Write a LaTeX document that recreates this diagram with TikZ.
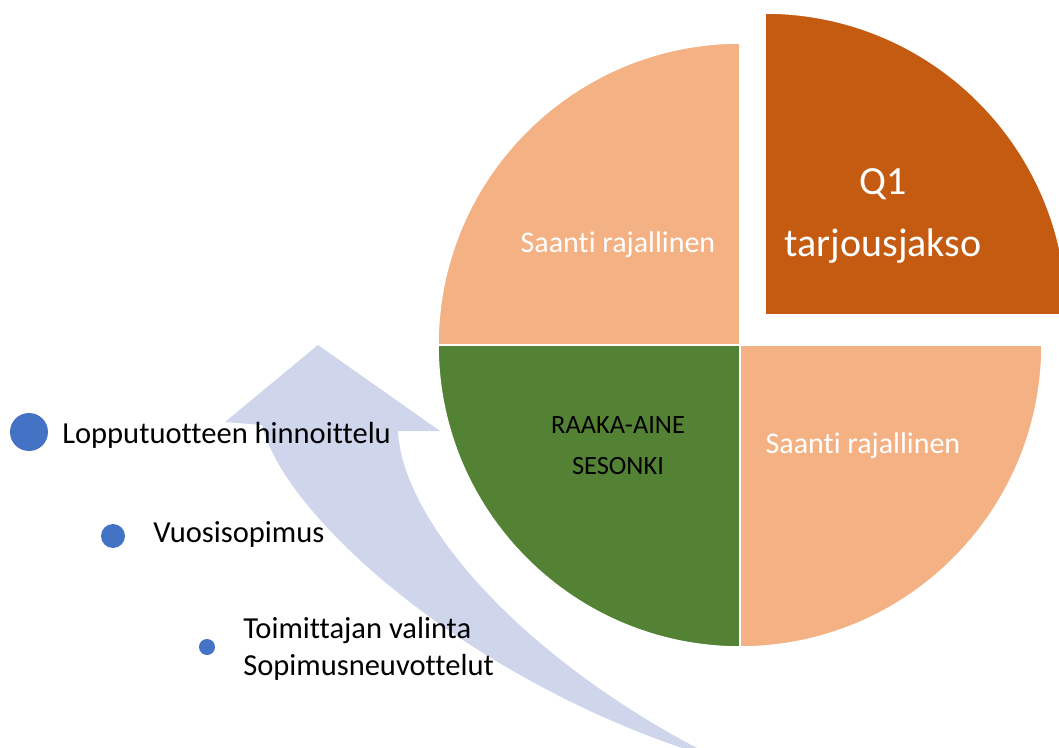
\documentclass[tikz,border=0pt]{standalone}
\usepackage{fontspec}
\setmainfont{Carlito}[Ligatures={NoCommon}]
\usepackage{tikz}
\definecolor{saantiorange}{RGB}{244,177,131}
\definecolor{tarjousorange}{RGB}{197,90,17}
\definecolor{sesonkigreen}{RGB}{84,130,53}
\definecolor{arrowblue}{RGB}{207,213,234}
\definecolor{dotblue}{RGB}{68,114,196}

\begin{document}
\begin{tikzpicture}[x=0.75pt, y=-0.75pt, line join=round,
    slice/.style={draw=white, line width=1.2pt},
    dot/.style={circle, fill=dotblue, inner sep=0pt},
    lbl/.style={inner sep=0pt, font=\fontsize{22.5}{27.75}\selectfont},
    bullettext/.style={inner sep=0pt, anchor=base west, font=\fontsize{22.9}{27.75}\selectfont}]
    \useasboundingbox (0,0) rectangle (1059,748);

    % Kaareva nuoli ympyrän vasemmalla puolella
    \fill[arrowblue] (318,345) -- (440,431) -- (398,431)
        .. controls (402,520) and (520,660) .. (720,760)
        .. controls (480,690) and (285,520) .. (262,425)
        -- (225,422) -- cycle;

    % Ympyrän neljännekset, keskipiste (740,345), säde 302
    \coordinate (c) at (740,345);
    \fill[saantiorange, slice] (c) -- +(180:302) arc[start angle=180, end angle=270, radius=302] -- cycle;
    \fill[sesonkigreen, slice] (c) -- +(90:302) arc[start angle=90, end angle=180, radius=302] -- cycle;
    \fill[saantiorange, slice] (c) -- +(0:302) arc[start angle=0, end angle=90, radius=302] -- cycle;
    % Irrotettu neljännes
    \coordinate (q) at (765,315);
    \fill[tarjousorange, slice] (q) -- +(270:302) arc[start angle=270, end angle=360, radius=302] -- cycle;

    % Neljännesten tekstit (base = viimeisen rivin perusviiva)
    \node[lbl, white, anchor=base] (saantiA) at (618,253) {Saanti rajallinen};
    \node[lbl, white, anchor=base] (saantiB) at (863,453) {Saanti rajallinen};
    \node[inner sep=0pt, white, anchor=base, align=center,
          font=\fontsize{30}{46.5}\selectfont] (tarjous) at (883,257) {Q1\\tarjousjakso};
    \node[inner sep=0pt, anchor=base, align=center,
          font=\fontsize{19.8}{30.75}\selectfont] (sesonki) at (618,474) {RAAKA-AINE\\SESONKI};

    % Luettelopisteet
    \node[dot, minimum size=28.5pt] (dotA) at (29,432) {};
    \node[dot, minimum size=18pt] (dotB) at (113,536) {};
    \node[dot, minimum size=12pt] (dotC) at (207,647) {};
    \node[bullettext] (hinnoittelu) at (62,443) {Lopputuotteen hinnoittelu};
    \node[bullettext] (vuosi) at (153,542) {Vuosisopimus};
    \node[bullettext, align=left] (toimittaja) at (243,675) {Toimittajan valinta\\Sopimusneuvottelut};
\end{tikzpicture}
\end{document}
